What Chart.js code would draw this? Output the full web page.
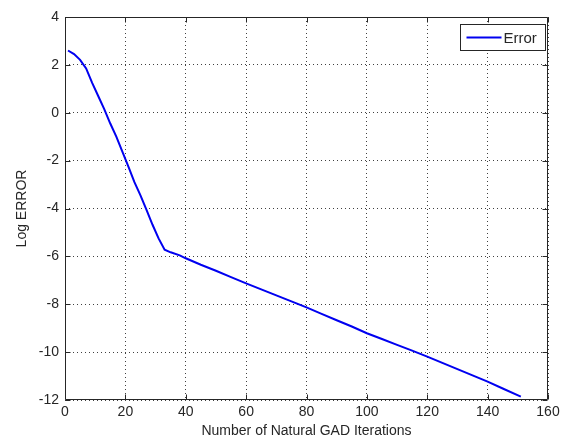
<!DOCTYPE html>
<html>
<head>
<meta charset="utf-8">
<script src="https://cdn.jsdelivr.net/npm/chart.js@4/dist/chart.umd.min.js"></script>
<style>
  html, body { margin: 0; padding: 0; background: #fff; }
  #wrap { width: 567px; height: 444px; }
</style>
</head>
<body>
<div id="wrap"><canvas id="errChart" width="567" height="444"></canvas></div>
<script>
// iteration number and log error at that iteration
const iterations = [1, 3, 5, 7, 9, 11, 13, 15, 17, 19, 21, 23, 25, 27, 29, 31, 33, 35, 38, 40,
  45, 50, 55, 60, 65, 70, 75, 80, 85, 90, 95, 100, 105, 110, 115, 120, 125, 130, 135, 140, 145, 151];
const logError = [2.60, 2.45, 2.21, 1.85, 1.25, 0.70, 0.15, -0.45, -1.00, -1.62, -2.25, -2.90,
  -3.45, -4.06, -4.68, -5.25, -5.72, -5.83, -5.96, -6.08,
  -6.35, -6.60, -6.87, -7.13, -7.38, -7.63, -7.88, -8.13, -8.40, -8.67, -8.93, -9.21,
  -9.45, -9.70, -9.94, -10.19, -10.45, -10.71, -10.97, -11.23, -11.52, -11.86];
const xTicks = [0, 20, 40, 60, 80, 100, 120, 140, 160];
const yTicks = [-12, -10, -8, -6, -4, -2, 0, 2, 4];

const FONT = "'Liberation Sans', Arial, Helvetica, sans-serif";
const INK = "#262626";

// box around the axes plus inward tick marks on all four sides
const axesFrame = {
  id: "axesFrame",
  afterDraw(chart) {
    const { ctx, chartArea: a, scales } = chart;
    const L = Math.round(a.left) + 0.5, R = Math.round(a.right) - 0.5;
    const T = Math.round(a.top) + 0.5, B = Math.round(a.bottom) - 0.5;
    ctx.save();
    ctx.strokeStyle = INK;
    ctx.lineWidth = 1;
    ctx.beginPath();
    ctx.rect(L, T, R - L, B - T);
    const len = 5;
    xTicks.forEach((v) => {
      const px = Math.round(scales.x.getPixelForValue(v)) + 0.5;
      ctx.moveTo(px, B); ctx.lineTo(px, B - len);
      ctx.moveTo(px, T); ctx.lineTo(px, T + len);
    });
    yTicks.forEach((v) => {
      const py = Math.round(scales.y.getPixelForValue(v)) + 0.5;
      ctx.moveTo(L, py); ctx.lineTo(L + len, py);
      ctx.moveTo(R, py); ctx.lineTo(R - len, py);
    });
    ctx.stroke();
    ctx.restore();
  },
};

// legend box in the upper right corner of the axes
const cornerLegend = {
  id: "cornerLegend",
  afterDraw(chart) {
    const { ctx, chartArea: a } = chart;
    const ds = chart.data.datasets[0];
    const w = 85, h = 26;
    const x = Math.round(a.right - 3 - w) + 0.5;
    const y = Math.round(a.top + 7) + 0.5;
    ctx.save();
    ctx.fillStyle = "#fff";
    ctx.fillRect(x, y, w, h);
    ctx.strokeStyle = INK;
    ctx.lineWidth = 1;
    ctx.strokeRect(x, y, w, h);
    const my = y + h / 2;
    ctx.strokeStyle = ds.borderColor;
    ctx.lineWidth = 2;
    ctx.beginPath();
    ctx.moveTo(x + 6, my);
    ctx.lineTo(x + 41, my);
    ctx.stroke();
    ctx.fillStyle = INK;
    ctx.font = "15px " + FONT;
    ctx.textBaseline = "middle";
    ctx.fillText(ds.label, x + 43, my + 1);
    ctx.restore();
  },
};

new Chart(document.getElementById("errChart"), {
  type: "line",
  data: {
    datasets: [
      {
        label: "Error",
        data: iterations.map((it, i) => ({ x: it, y: logError[i] })),
        borderColor: "#0000f0",
        borderWidth: 2,
        pointRadius: 0,
        tension: 0,
        fill: false,
      },
    ],
  },
  options: {
    responsive: false,
    animation: false,
    layout: { padding: { left: 0, top: 17, right: 19, bottom: 0 } },
    plugins: {
      legend: { display: false },
      tooltip: { enabled: false },
    },
    scales: {
      x: {
        type: "linear",
        min: 0,
        max: 160,
        afterFit: (s) => { s.height = 44; },
        afterBuildTicks: (s) => { s.ticks = xTicks.map((v) => ({ value: v })); },
        ticks: { font: { family: FONT, size: 14 }, color: INK, padding: 4, maxRotation: 0 },
        grid: { color: "rgba(0,0,0,0.75)", lineWidth: 1, drawTicks: false },
        border: { display: false, dash: [1, 3] },
        title: {
          display: true,
          text: "Number of Natural GAD Iterations",
          font: { family: FONT, size: 14 },
          color: INK,
          padding: { top: 0, bottom: 4 },
        },
      },
      y: {
        type: "linear",
        min: -12,
        max: 4,
        afterFit: (s) => { s.width = 65; },
        afterBuildTicks: (s) => { s.ticks = yTicks.map((v) => ({ value: v })); },
        ticks: { font: { family: FONT, size: 14 }, color: INK, padding: 6 },
        grid: { color: "rgba(0,0,0,0.75)", lineWidth: 1, drawTicks: false },
        border: { display: false, dash: [1, 3] },
        title: {
          display: true,
          text: "Log ERROR",
          font: { family: FONT, size: 14 },
          color: INK,
          padding: { top: 14, bottom: 0 },
        },
      },
    },
  },
  plugins: [axesFrame, cornerLegend],
});
</script>
</body>
</html>
